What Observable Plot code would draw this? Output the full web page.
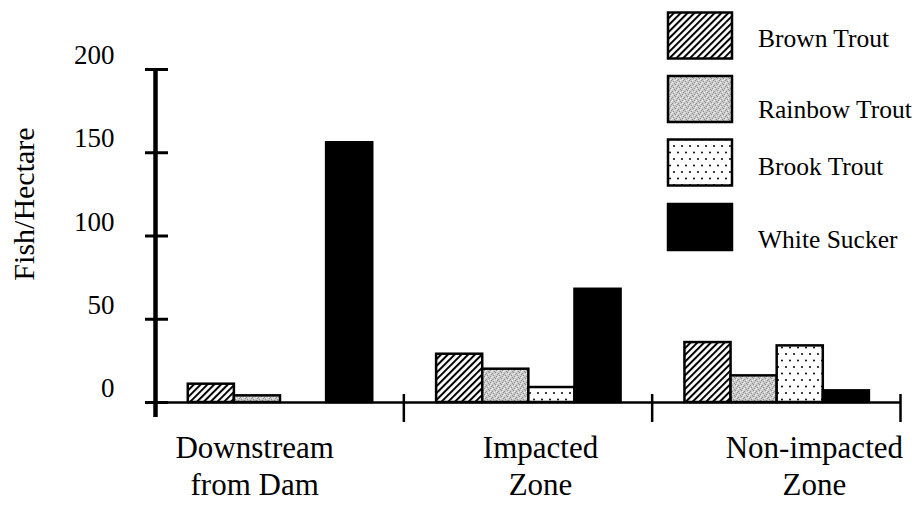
<!DOCTYPE html>
<html><head><meta charset="utf-8">
<script src="https://cdn.jsdelivr.net/npm/d3@7"></script>
<script src="https://cdn.jsdelivr.net/npm/@observablehq/plot@0.6"></script>
<style>
body{margin:0;background:#fff;}
#chart{position:relative;width:923px;height:509px;}
</style></head><body><div id="chart"></div>
<script>
// ---- data ----
const groups = ["Downstream\nfrom Dam", "Impacted\nZone", "Non-impacted\nZone"];
const species = ["Brown Trout", "Rainbow Trout", "Brook Trout", "White Sucker"];
const brownTrout   = [11, 29, 36];
const rainbowTrout = [4, 20, 16];
const brookTrout   = [0, 9, 34];
const whiteSucker  = [156, 68, 7];
const yTicks = [0, 50, 100, 150, 200];
const yTitle = "Fish/Hectare";

// ---- table built from the arrays ----
const seriesValues = [brownTrout, rainbowTrout, brookTrout, whiteSucker];
const data = [];
groups.forEach((g, gi) => species.forEach((s, si) =>
  data.push({group: g, gi, species: s, si, value: seriesValues[si][gi]})));

// ---- layout / style ----
const FONT = "'Liberation Serif', 'Times New Roman', serif";
const PAD = 0.132, BW = 0.1857;           // within-group padding and bar width (group units)
const GROUP_PX = (923 - 155 - 23) / 3;
const labelShiftPx = [-25, 12.5, 38];
const fills = ["url(#hatch)", "url(#stipple)", "url(#dots)", "#000"];

const plot = Plot.plot({
  width: 923,
  height: 509,
  marginLeft: 155,
  marginRight: 23,
  marginTop: 69,
  marginBottom: 107,
  style: {fontFamily: FONT, background: "#fff", color: "#000"},
  x: {type: "linear", domain: [0, 3], axis: null},
  y: {domain: [0, 200], axis: null},
  color: {type: "ordinal", domain: species, range: fills},
  marks: [
    Plot.rectY(data.filter(d => d.value > 0), {
      x1: d => d.gi + PAD + d.si * BW,
      x2: d => d.gi + PAD + (d.si + 1) * BW,
      y1: 0, y2: "value",
      fill: "species", stroke: "#000", strokeWidth: 2.5
    }),
    // x baseline
    Plot.ruleY([0], {stroke: "#000", strokeWidth: 2.5}),
    // category separator ticks
    Plot.ruleX([1, 2, 3], {y1: 0, y2: 0, insetTop: -8, insetBottom: -20, stroke: "#000", strokeWidth: 2.5}),
    // y axis line
    Plot.ruleX([0], {stroke: "#000", strokeWidth: 4.5, insetBottom: -15}),
    // y ticks
    Plot.ruleY(yTicks, {x1: 0, x2: 0, insetLeft: -10, insetRight: -13, stroke: "#000", strokeWidth: 3}),
    // y tick labels
    Plot.text(yTicks, {x: 0, y: d => d, text: d => String(d), textAnchor: "end", dx: -41, dy: -14, fontSize: 27}),
    // y title
    Plot.text([yTitle], {frameAnchor: "left", textAnchor: "middle", rotate: -90, dx: -131, dy: -32, fontSize: 30}),
    // group labels
    Plot.text(groups, {
      x: (d, i) => i + 0.5 + labelShiftPx[i] / GROUP_PX,
      frameAnchor: "bottom", lineAnchor: "top", dy: 29,
      fontSize: 31, lineHeight: 1.19, text: d => d
    })
  ]
});

// ---- patterns ----
const svg = d3.select(plot);
const defs = svg.insert("defs", ":first-child");
const hatch = defs.append("pattern").attr("id", "hatch").attr("patternUnits", "userSpaceOnUse")
  .attr("width", 4.8).attr("height", 4.8).attr("patternTransform", "rotate(45)");
hatch.append("rect").attr("width", 4.8).attr("height", 4.8).attr("fill", "#fff");
hatch.append("rect").attr("width", 2).attr("height", 4.8).attr("fill", "#000");

const stip = defs.append("pattern").attr("id", "stipple").attr("patternUnits", "userSpaceOnUse")
  .attr("width", 6).attr("height", 6);
stip.append("rect").attr("width", 6).attr("height", 6).attr("fill", "#cbcbcb");
[[0,1],[3,0],[4,4],[1,3],[5,2],[2,5]].forEach(([px,py]) =>
  stip.append("rect").attr("x", px).attr("y", py).attr("width", 1).attr("height", 1).attr("fill", "#8c8c8c"));
[[2,2],[5,5],[0,4],[4,1]].forEach(([px,py]) =>
  stip.append("rect").attr("x", px).attr("y", py).attr("width", 1).attr("height", 1).attr("fill", "#f2f2f2"));

const dots = defs.append("pattern").attr("id", "dots").attr("patternUnits", "userSpaceOnUse")
  .attr("width", 8).attr("height", 13);
dots.append("rect").attr("width", 8).attr("height", 13).attr("fill", "#fff");
[[2,3],[6,9.5]].forEach(([cx,cy]) =>
  dots.append("circle").attr("cx", cx).attr("cy", cy).attr("r", 1).attr("fill", "#000"));

// ---- legend ----
const legTops = [12.5, 76, 139.5, 204];
const legBase = [47, 118, 175, 248];
const leg = svg.append("g").attr("font-family", FONT).attr("text-anchor", "start");
species.forEach((s, i) => {
  leg.append("rect").attr("x", 668).attr("y", legTops[i]).attr("width", 64).attr("height", 46)
    .attr("fill", fills[i]).attr("stroke", "#000").attr("stroke-width", 2.5);
  leg.append("text").attr("x", 758).attr("y", legBase[i]).attr("font-size", 25.5)
    .attr("text-anchor", "start").attr("fill", "#000").text(s);
});

document.getElementById("chart").appendChild(plot);
</script></body></html>
